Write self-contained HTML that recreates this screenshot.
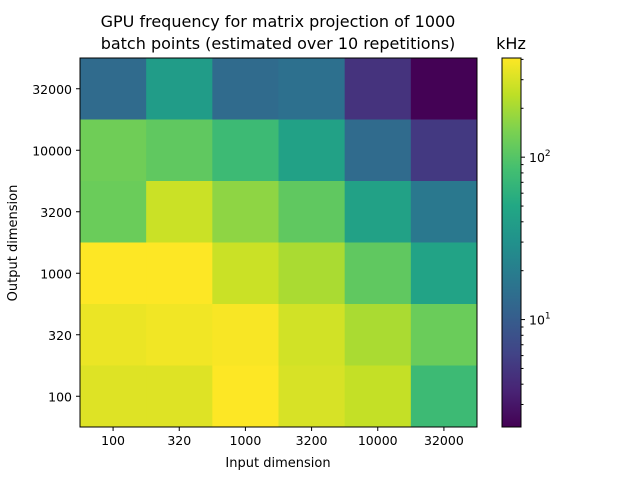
<!DOCTYPE html>
<html><head><meta charset="utf-8"><style>
body{margin:0;background:#fff;}
svg{display:block;font-family:"DejaVu Sans","Liberation Sans",sans-serif;}
</style></head><body>
<svg id="chart" width="640" height="480" viewBox="0 0 640 480">
<defs><linearGradient id="vir" x1="0" y1="1" x2="0" y2="0"></linearGradient></defs>
<text x="278" y="27" text-anchor="middle" font-size="16">GPU frequency for matrix projection of 1000</text>
<text x="278" y="49" text-anchor="middle" font-size="16">batch points (estimated over 10 repetitions)</text>
<text x="511" y="49" text-anchor="middle" font-size="16">kHz</text>
<g id="cells"></g><g id="axes"></g>
<text x="278" y="467" text-anchor="middle" font-size="13">Input dimension</text>
<text transform="translate(17,243) rotate(-90)" text-anchor="middle" font-size="13">Output dimension</text>
</svg>
<script>
const xCategories=["100","320","1000","3200","10000","32000"];
const yCategories=["32000","10000","3200","1000","320","100"];
const row32000=[13.5,38.5,13.5,15,4.7,2.2];
const row10000=[129,111,76,43,13.5,5.2];
const row3200=[123,270,168,111,43,17.5];
const row1000=[408,408,270,208,111,45];
const row320=[352,371,391,285,208,123];
const row100=[317,317,408,300,257,76];
const values=[row32000,row10000,row3200,row1000,row320,row100];
const cbTicks=[10,100];
const cbMin=2.18,cbMax=408;
const vir=["#440154","#482475","#414487","#355f8d","#2a788e","#21918c","#22a884","#44bf70","#7ad151","#bddf26","#fde725"];
const NS="http://www.w3.org/2000/svg";
const X0=80,X1=477,Y0=58,Y1=427;
const CBX=502,CBW=19;
function xPos(i){return X0+(X1-X0)*i/xCategories.length;}
function yPos(j){return Y0+(Y1-Y0)*j/yCategories.length;}
function tOf(v){return (Math.log10(v)-Math.log10(cbMin))/(Math.log10(cbMax)-Math.log10(cbMin));}
function cbY(v){return Y1-(Y1-Y0)*tOf(v);}
function hex(h){return [1,3,5].map(k=>parseInt(h.substr(k,2),16));}
function color(v){let t=Math.max(0,Math.min(1,tOf(v)))*10;let i=Math.min(9,Math.floor(t));let f=t-i;let a=hex(vir[i]),b=hex(vir[i+1]);return "rgb("+a.map((c,k)=>Math.round(c+(b[k]-c)*f)).join(",")+")";}
function mk(tag,attrs,parent){const e=document.createElementNS(NS,tag);for(const k in attrs)e.setAttribute(k,attrs[k]);parent.appendChild(e);return e;}
const cells=document.getElementById('cells'),axes=document.getElementById('axes');
const grad=document.getElementById('vir');
vir.forEach((c,i)=>mk('stop',{offset:(i*10)+'%','stop-color':c},grad));
values.forEach((row,j)=>row.forEach((v,i)=>{
 const r=mk('rect',{x:xPos(i),y:yPos(j),width:xPos(i+1)-xPos(i)+0.5,height:yPos(j+1)-yPos(j)+0.5,fill:color(v)},cells);
 
 
}));
const frame=mk('rect',{x:X0,y:Y0,width:X1-X0,height:Y1-Y0,fill:'none',stroke:'#000','stroke-width':1},axes);


xCategories.forEach((c,i)=>{
 const x=(xPos(i)+xPos(i+1))/2;
 mk('line',{x1:x,x2:x,y1:Y1,y2:Y1+4,stroke:'#000'},axes);
 const t=mk('text',{x:x,y:Y1+18,'text-anchor':'middle','font-size':12.5},axes);t.textContent=c;
 
 
});
yCategories.forEach((c,j)=>{
 const y=(yPos(j)+yPos(j+1))/2;
 mk('line',{x1:X0-4,x2:X0,y1:y,y2:y,stroke:'#000'},axes);
 const t=mk('text',{x:X0-8,y:y+5,'text-anchor':'end','font-size':12.5},axes);t.textContent=c;
 
 
});
const cb=mk('rect',{x:CBX,y:Y0,width:CBW,height:Y1-Y0,fill:'url(#vir)',stroke:'#000','stroke-width':1},axes);


for(let d=0;d<=2;d++){for(let m=1;m<=9;m++){const v=m*Math.pow(10,d);if(v<cbMin||v>cbMax)continue;const y=cbY(v);const major=cbTicks.includes(v);
 mk('line',{x1:CBX+CBW,x2:CBX+CBW+(major?4:2.5),y1:y,y2:y,stroke:'#000'},axes);
 if(major){const t=mk('text',{x:CBX+CBW+8,y:y+5,'font-size':12.5},axes);t.textContent='10';const s=mk('tspan',{dy:-6,'font-size':9},t);s.textContent=String(Math.log10(v));
 
 }
}}
</script>
</body></html>
